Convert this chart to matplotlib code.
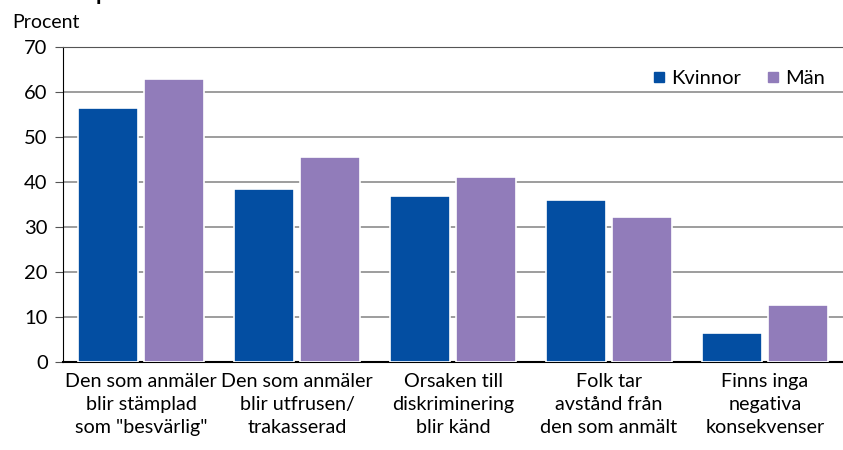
import numpy as np
import matplotlib.pyplot as plt
from matplotlib.lines import Line2D

categories = ['Den som anmäler\nblir stämplad\nsom "besvärlig"',
              'Den som anmäler\nblir utfrusen/\ntrakasserad',
              'Orsaken till\ndiskriminering\nblir känd',
              'Folk tar\navstånd från\nden som anmält',
              'Finns inga\nnegativa\nkonsekvenser']
kvinnor = [56.5, 38.4, 36.9, 36.1, 6.4]
man = [62.8, 45.6, 41.1, 32.3, 12.7]

c_kv = '#034ea2'
c_man = '#917cba'

plt.rcParams['font.family'] = ['Lato', 'DejaVu Sans']

fig = plt.figure(figsize=(8.43, 4.5), dpi=100)
ax = fig.add_axes([63 / 843, 88 / 450, 780 / 843, 315 / 450])

x = np.arange(len(categories))
w = 0.385
ax.bar(x - w / 2 - 0.02, kvinnor, w, color=c_kv, edgecolor='white', linewidth=1.2, zorder=3)
ax.bar(x + w / 2 + 0.02, man, w, color=c_man, edgecolor='white', linewidth=1.2, zorder=3)

ax.set_xlim(-0.5, len(categories) - 0.5)
ax.set_ylim(0, 70)
ax.set_yticks(range(0, 71, 10))
ax.yaxis.grid(True, color='#8c8c8c', linewidth=1.2, zorder=0)
ax.set_axisbelow(True)

ax.spines['right'].set_visible(False)
ax.spines['top'].set_color('#555555')
ax.spines['left'].set_color('black')
ax.spines['bottom'].set_color('black')
ax.spines['bottom'].set_linewidth(1.5)

ax.set_xticks(x)
ax.set_xticklabels(categories, fontsize=14.2, linespacing=1.42)
ax.tick_params(axis='x', length=0, pad=8)
ax.tick_params(axis='y', length=6, color='#555555', labelsize=14.5, pad=5)

fig.text(12 / 843, 1 - 28 / 450, 'Procent', fontsize=14)
fig.text(96 / 843, 1.0, 'p', fontsize=16, fontweight='bold', va='baseline')

handles = [Line2D([], [], marker='s', linestyle='', color=c_kv, markersize=7),
           Line2D([], [], marker='s', linestyle='', color=c_man, markersize=7)]
ax.legend(handles, ['Kvinnor', 'Män'], ncol=2, loc='upper right', frameon=False,
          bbox_to_anchor=(1.0, 0.985), fontsize=14.5, handletextpad=0.1,
          columnspacing=1.1, handlelength=1.0)

plt.savefig('out.png', dpi=100)
